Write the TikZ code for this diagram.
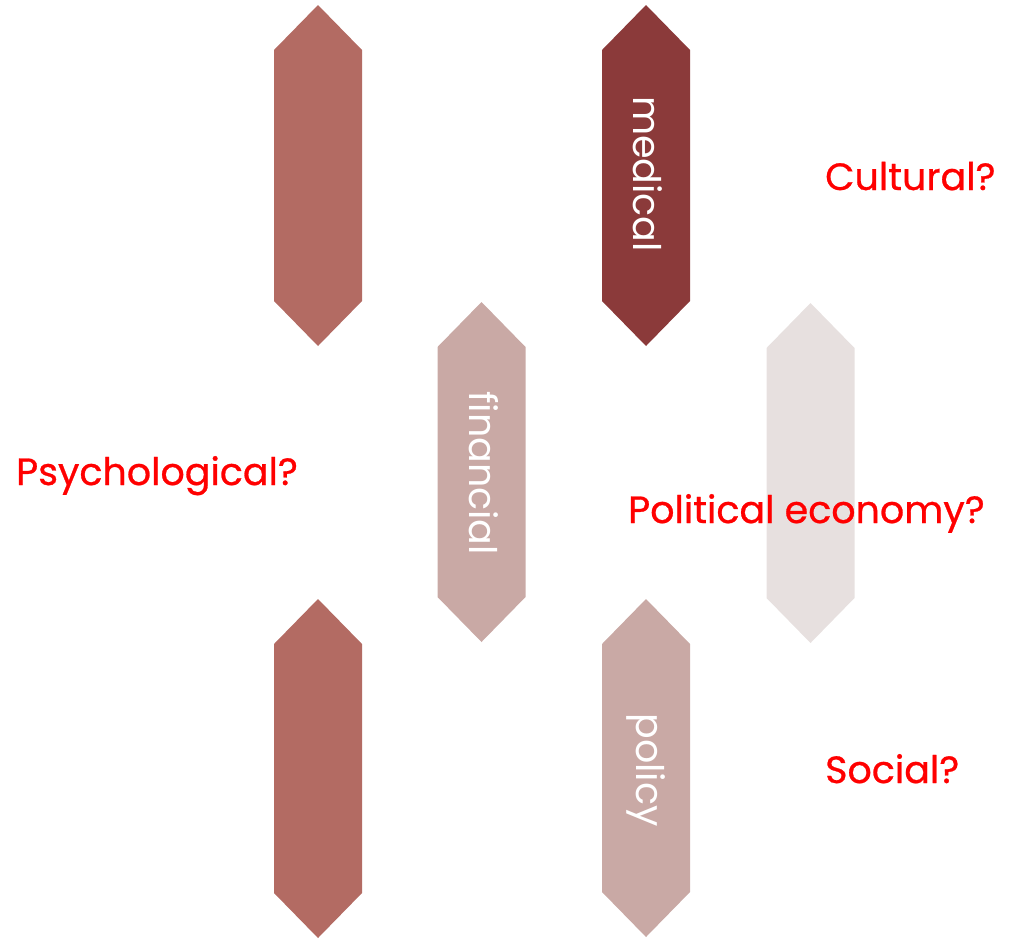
\documentclass[tikz,border=0pt]{standalone}
\usepackage{fontspec}
\setmainfont{Poppins}
\newfontfamily\qfont[FakeBold=0.7]{Poppins}
\definecolor{hexA}{HTML}{B36B63}
\definecolor{hexB}{HTML}{8B3A3A}
\definecolor{hexC}{HTML}{C9A9A5}
\definecolor{hexD}{HTML}{E7E0DF}
\definecolor{qred}{HTML}{FF0000}
\newcommand{\hexpath}[4]{% cx, top, bottom, colour
  \fill[#4] (#1,#2) -- ({#1+44},{#2+45}) -- ({#1+44},{#3-45}) -- (#1,#3)
    -- ({#1-44},{#3-45}) -- ({#1-44},{#2+45}) -- cycle;}
\tikzset{
  question/.style={text=qred, font=\qfont\fontsize{38}{40}\selectfont, anchor=base west, inner sep=0pt},
  inlabel/.style={text=white, font=\fontsize{38}{40}\selectfont, rotate=-90, inner sep=0pt}
}
\begin{document}
\begin{tikzpicture}[x=1pt,y=-1pt]
\useasboundingbox (0,0) rectangle (1014,940);
\hexpath{318}{5}{346}{hexA}
\hexpath{646}{5}{346}{hexB}
\hexpath{481.5}{302}{642}{hexC}
\hexpath{810.5}{303}{643}{hexD}
\hexpath{318}{599}{938}{hexA}
\hexpath{646}{599}{937}{hexC}
\node[inlabel] (medical) at (648,174) {medical};
\node[inlabel] (financial) at (484,473) {financial};
\node[inlabel] (policy) at (646,770) {policy};
\node[question] (cultural) at (825,190) {Cultural?};
\node[question] (psych) at (16,485) {Psychological?};
\node[question] (polecon) at (628,523) {Political economy?};
\node[question] (social) at (825,783) {Social?};
\end{tikzpicture}
\end{document}
